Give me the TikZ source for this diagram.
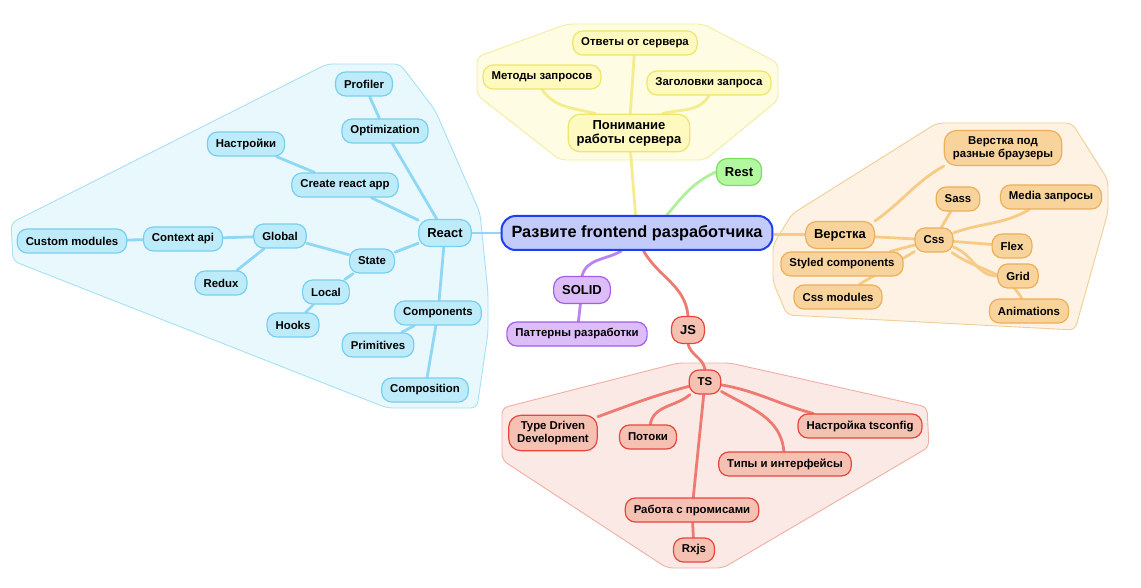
\documentclass[tikz,border=0pt]{standalone}
\usepackage{fontspec}
\setmainfont{Liberation Sans}
\usepackage{tikz}
\usetikzlibrary{calc}
\definecolor{rootfill}{HTML}{C2CBF9}
\definecolor{rootdraw}{HTML}{1F3FEE}
\definecolor{cyanfill}{HTML}{BDEBFA}
\definecolor{cyandraw}{HTML}{78D0F0}
\definecolor{cyanline}{HTML}{8FD8F5}
\definecolor{cyanarea}{HTML}{E9F8FD}
\definecolor{cyanedge}{HTML}{A6E1F5}
\definecolor{yelfill}{HTML}{FEF9BE}
\definecolor{yeldraw}{HTML}{EEE56A}
\definecolor{yelline}{HTML}{F5EC8E}
\definecolor{yelarea}{HTML}{FEFDE3}
\definecolor{yeledge}{HTML}{F4EC9E}
\definecolor{orafill}{HTML}{F8D49C}
\definecolor{oradraw}{HTML}{EDAF5A}
\definecolor{oraline}{HTML}{F7CB85}
\definecolor{oraarea}{HTML}{FDF2E3}
\definecolor{oraedge}{HTML}{F2CE97}
\definecolor{redfill}{HTML}{F4C1B3}
\definecolor{reddraw}{HTML}{E8463C}
\definecolor{redline}{HTML}{EE7B72}
\definecolor{redarea}{HTML}{FBE9E5}
\definecolor{rededge}{HTML}{F0AFA5}
\definecolor{purfill}{HTML}{DDBDF8}
\definecolor{purdraw}{HTML}{A35CEB}
\definecolor{purline}{HTML}{B884F2}
\definecolor{grnfill}{HTML}{B3F7A0}
\definecolor{grndraw}{HTML}{7CDF5C}
\definecolor{grnline}{HTML}{B0F09A}
\pgfdeclarelayer{area}
\pgfdeclarelayer{links}
\pgfsetlayers{area,links,main}
\tikzset{
  topic/.style={draw, line width=1.2pt, rounded corners=10pt, minimum height=24pt,
    inner xsep=8.5pt, inner ysep=0pt, align=center,
    font=\fontsize{11.4}{12.7}\selectfont\bfseries},
  bigtopic/.style={topic, minimum height=27pt, rounded corners=11pt,
    font=\fontsize{13}{14}\selectfont\bfseries},
  tall/.style={inner ysep=6pt, rounded corners=12pt},
  central/.style={topic, line width=2pt, minimum height=34pt, rounded corners=14pt,
    inner xsep=10pt, draw=rootdraw, fill=rootfill,
    font=\fontsize{16.3}{18}\selectfont\bfseries},
  cyannode/.style={fill=cyanfill, draw=cyandraw},
  yelnode/.style={fill=yelfill, draw=yeldraw},
  oranode/.style={fill=orafill, draw=oradraw},
  rednode/.style={fill=redfill, draw=reddraw},
  purnode/.style={fill=purfill, draw=purdraw},
  grnnode/.style={fill=grnfill, draw=grndraw},
  link/.style={line width=2.8pt, line cap=round},
  region/.style={line width=0.9pt, rounded corners=6pt}
}

\begin{document}
\begin{tikzpicture}[x=1pt, y=-1pt]
  \useasboundingbox (0,0) rectangle (1141,588);

  % areas
  \begin{pgfonlayer}{area}
    \fill[white] (0,0) rectangle (1141,588);
    \draw[region, draw=cyanedge, fill=cyanarea] (327,64) -- (400,64) -- (435,110) -- (480,213)
      -- (488,293) -- (488,333) -- (477,408) -- (387,408) -- (13,261) -- (11,223) -- cycle;
    \draw[region, draw=yeledge, fill=yelarea] (567,24) -- (703,24) -- (778,63) -- (778,100)
      -- (705,160) -- (560,160) -- (477,95) -- (477,57) -- cycle;
    \draw[region, draw=oraedge, fill=oraarea] (937,123) -- (1072,123) -- (1108,180) -- (1108,212)
      -- (1075,330) -- (787,315) -- (773,282) -- (773,245) -- (792,214) -- cycle;
    \draw[region, draw=rededge, fill=redarea] (678,363) -- (730,363) -- (927,407) -- (929,447)
      -- (723,568) -- (667,568) -- (502,460) -- (502,408) -- cycle;
  \end{pgfonlayer}

  \node[central] (root) at (637,233) {Развите frontend разработчика};

  % React
  \node[bigtopic, cyannode] (react) at (445,233) {React};
  \node[topic, cyannode] (profiler) at (364,84) {Profiler};
  \node[topic, cyannode] (optim) at (385,131) {Optimization};
  \node[topic, cyannode] (nastr) at (246,144) {Настройки};
  \node[topic, cyannode] (cra) at (345,185) {Create react app};
  \node[topic, cyannode] (custom) at (72,241) {Custom modules};
  \node[topic, cyannode] (context) at (183,239) {Context api};
  \node[topic, cyannode] (global) at (280,236) {Global};
  \node[topic, cyannode] (redux) at (221,283) {Redux};
  \node[topic, cyannode] (state) at (372,261) {State};
  \node[topic, cyannode] (local) at (326,292) {Local};
  \node[topic, cyannode] (hooks) at (293,325) {Hooks};
  \node[topic, cyannode] (comps) at (438,313) {Components};
  \node[topic, cyannode] (prims) at (378,345) {Primitives};
  \node[topic, cyannode] (compos) at (425,390) {Composition};

  % server
  \node[bigtopic, tall, yelnode] (server) at (629,133) {Понимание\\работы сервера};
  \node[topic, yelnode] (answers) at (635,43) {Ответы от сервера};
  \node[topic, yelnode] (methods) at (542,77) {Методы запросов};
  \node[topic, yelnode] (headers) at (709,83) {Заголовки запроса};
  \node[bigtopic, grnnode] (rest) at (739,172) {Rest};

  % Верстка
  \node[bigtopic, oranode] (layout) at (840,235) {Верстка};
  \node[topic, tall, oranode] (browsers) at (1003,148) {Верстка под\\разные браузеры};
  \node[topic, oranode] (css) at (934,240) {Css};
  \node[topic, oranode] (sass) at (958,199) {Sass};
  \node[topic, oranode] (media) at (1051,197) {Media запросы};
  \node[topic, oranode] (flex) at (1012,246) {Flex};
  \node[topic, oranode] (grid) at (1018,276) {Grid};
  \node[topic, oranode] (anim) at (1029,311) {Animations};
  \node[topic, oranode] (styled) at (842,264) {Styled components};
  \node[topic, oranode] (cssmod) at (838,297) {Css modules};

  % SOLID, JS
  \node[bigtopic, purnode] (solid) at (582,290) {SOLID};
  \node[topic, purnode] (patterns) at (577,334) {Паттерны разработки};
  \node[bigtopic, rednode] (js) at (688,330) {JS};
  \node[topic, rednode] (ts) at (705,382) {TS};
  \node[topic, tall, rednode] (tdd) at (553,433) {Type Driven\\Development};
  \node[topic, rednode] (streams) at (648,437) {Потоки};
  \node[topic, rednode] (tsconfig) at (860,426) {Настройка tsconfig};
  \node[topic, rednode] (types) at (785,464) {Типы и интерфейсы};
  \node[topic, rednode] (promises) at (692,510) {Работа с промисами};
  \node[topic, rednode] (rxjs) at (694,550) {Rxjs};

  \begin{pgfonlayer}{links}
    \draw[link, cyanline] (root) -- (react);
    \draw[link, cyanline] (react) -- (optim) -- (profiler);
    \draw[link, cyanline] (react) -- (cra) -- (nastr);
    \draw[link, cyanline] (react) -- (state) -- (global) -- (context) -- (custom);
    \draw[link, cyanline] (global) -- (redux);
    \draw[link, cyanline] (state) -- (local) -- (hooks);
    \draw[link, cyanline] (react) -- (comps) -- (compos);
    \draw[link, cyanline] (comps) -- (prims);

    \draw[link, yelline] (root) -- (server) -- (answers);
    \draw[link, yelline] (server.150) to[out=165,in=-55] (methods.south);
    \draw[link, yelline] (server.30) to[out=15,in=-120] (headers.south);
    \draw[link, grnline] (root.31) to[out=50,in=205] (rest.west);

    \draw[link, oraline] (root) -- (layout) -- (css);
    \draw[link, oraline] (layout.north east) to[out=35,in=-150] (browsers.south west);
    \draw[link, oraline] (css) -- (sass);
    \draw[link, oraline] (css) to[out=20,in=-150] (media);
    \draw[link, oraline] (css) -- (flex);
    \draw[link, oraline] (css) to[out=-20,in=180] (grid);
    \draw[link, oraline] (css) to[out=-35,in=120] (anim);
    \draw[link, oraline] (css) -- (styled);
    \draw[link, oraline] (css) -- (cssmod);

    \draw[link, purline] (root.229) to[out=-150,in=75] (solid.north);
    \draw[link, purline] (solid) -- (patterns);
    \draw[link, redline] (root.-70) to[out=-60,in=95] (js.north);
    \draw[link, redline] (js.south) to[out=-75,in=100] (ts.north);
    \draw[link, redline] (ts) to[out=-165,in=20] (tdd);
    \draw[link, redline] (ts) to[out=-140,in=80] (streams);
    \draw[link, redline] (ts) -- (promises) -- (rxjs);
    \draw[link, redline] (ts) to[out=-30,in=95] (types);
    \draw[link, redline] (ts) to[out=-10,in=165] (tsconfig);
  \end{pgfonlayer}
\end{tikzpicture}
\end{document}
